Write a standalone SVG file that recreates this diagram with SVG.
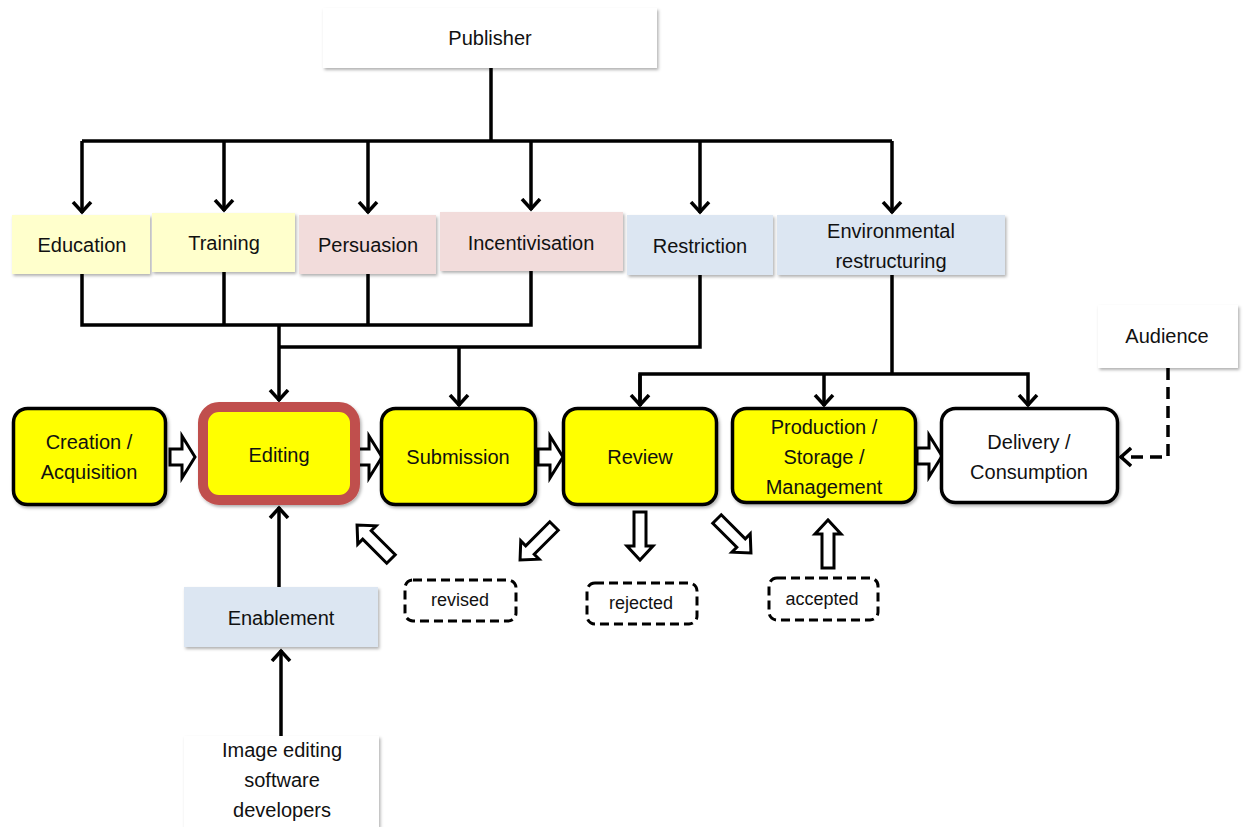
<svg xmlns="http://www.w3.org/2000/svg" xmlns:xlink="http://www.w3.org/1999/xlink" width="1244" height="827" viewBox="0 0 1244 827">
<style>
text{font-family:"Liberation Sans",Arial,sans-serif;font-size:20px;fill:#111;text-anchor:middle;dominant-baseline:central}
.small{font-size:18px}
.wht{fill:#fff}
.ylw{fill:#FFFFCC}
.pnk{fill:#F2DCDB}
.blu{fill:#DCE6F2}
.proc{fill:#FFFF00;stroke:#000;stroke-width:3.5}
.deliv{fill:#fff;stroke:#000;stroke-width:3.5}
.edit{fill:#FFFF00;stroke:#C0504D;stroke-width:10}
.dash{fill:#fff;stroke:#000;stroke-width:3;stroke-dasharray:9 5}
.conn{fill:none;stroke:#000;stroke-width:3.5}
.dconn{fill:none;stroke:#000;stroke-width:3.5;stroke-dasharray:12 7}
.barrow{fill:#fff;stroke:#000;stroke-width:3;stroke-linejoin:miter}
</style>
<defs>
<filter id="sh" x="-10%" y="-10%" width="130%" height="140%">
<feDropShadow dx="1.5" dy="2" stdDeviation="1.5" flood-color="#000" flood-opacity="0.3"/>
</filter>
<marker id="arr" markerUnits="userSpaceOnUse" orient="auto" markerWidth="24" markerHeight="24" viewBox="-12 -12 24 24" refX="0" refY="0">
<path d="M-11,-9 L-1,0 L-11,9" fill="none" stroke="#000" stroke-width="3.5"/>
</marker>
<path id="bigArrow" class="barrow" d="M0,-8 H12 V-21 L25,0 L12,21 V8 H0 Z"/>
<path id="smallArrow" class="barrow" d="M0,-6 H34 V-13 L48,0 L34,13 V6 H0 Z"/>
</defs>
<g id="connectors">
<path class="conn" d="M491,68 V141"/>
<path class="conn" d="M82,141 H892"/>
<path class="conn" d="M82,141 V213" marker-end="url(#arr)"/>
<path class="conn" d="M224,141 V211" marker-end="url(#arr)"/>
<path class="conn" d="M368,141 V213" marker-end="url(#arr)"/>
<path class="conn" d="M531,141 V210" marker-end="url(#arr)"/>
<path class="conn" d="M700,141 V213" marker-end="url(#arr)"/>
<path class="conn" d="M892,141 V213" marker-end="url(#arr)"/>
<path class="conn" d="M82,274 V325 H531 V271"/>
<path class="conn" d="M224,272 V325"/>
<path class="conn" d="M368,274 V325"/>
<path class="conn" d="M279,325 V401" marker-end="url(#arr)"/>
<path class="conn" d="M279,347 H700 V275"/>
<path class="conn" d="M459,347 V406" marker-end="url(#arr)"/>
<path class="conn" d="M892,275 V374"/>
<path class="conn" d="M640,406 V374 H1028 V406" marker-end="url(#arr)"/>
<path class="conn" d="M640,374 V406" marker-end="url(#arr)"/>
<path class="conn" d="M824,374 V406" marker-end="url(#arr)"/>
<path class="dconn" d="M1168,368 V457 H1120" marker-end="url(#arr)"/>
<path class="conn" d="M279,587 V507" marker-end="url(#arr)"/>
<path class="conn" d="M281,736 V650" marker-end="url(#arr)"/>
<use xlink:href="#bigArrow" href="#bigArrow" transform="translate(170,457)"/>
<use xlink:href="#bigArrow" href="#bigArrow" transform="translate(357,457)"/>
<use xlink:href="#bigArrow" href="#bigArrow" transform="translate(538,457)"/>
<use xlink:href="#bigArrow" href="#bigArrow" transform="translate(917,456)"/>
<use xlink:href="#smallArrow" href="#smallArrow" transform="translate(391,559) rotate(-135)"/>
<use xlink:href="#smallArrow" href="#smallArrow" transform="translate(554,526) rotate(135)"/>
<use xlink:href="#smallArrow" href="#smallArrow" transform="translate(640,512) rotate(90)"/>
<use xlink:href="#smallArrow" href="#smallArrow" transform="translate(717,519) rotate(45)"/>
<use xlink:href="#smallArrow" href="#smallArrow" transform="translate(828,568) rotate(-90)"/>
</g>
<g id="publisher"><rect class="wht" x="323" y="8" width="334" height="60" filter="url(#sh)"/><text x="490" y="38">Publisher</text></g>
<g id="education"><rect class="ylw" x="12" y="215" width="138" height="59" filter="url(#sh)"/><text x="82" y="245">Education</text></g>
<g id="training"><rect class="ylw" x="152" y="213" width="143" height="59" filter="url(#sh)"/><text x="224" y="243">Training</text></g>
<g id="persuasion"><rect class="pnk" x="299" y="215" width="137" height="59" filter="url(#sh)"/><text x="368" y="245">Persuasion</text></g>
<g id="incentivisation"><rect class="pnk" x="440" y="212" width="183" height="59" filter="url(#sh)"/><text x="531" y="243">Incentivisation</text></g>
<g id="restriction"><rect class="blu" x="627" y="215" width="146" height="60" filter="url(#sh)"/><text x="700" y="246">Restriction</text></g>
<g id="environmental"><rect class="blu" x="777" y="215" width="228" height="60" filter="url(#sh)"/><text x="891" y="231">Environmental</text><text x="891" y="261">restructuring</text></g>
<g id="creation"><rect class="proc" x="13.5" y="408.5" width="152" height="96" rx="14" filter="url(#sh)"/><text x="89" y="442">Creation /</text><text x="89" y="472">Acquisition</text></g>
<g id="editing"><rect class="edit" x="203" y="407" width="152" height="93" rx="16" filter="url(#sh)"/><text x="279" y="455">Editing</text></g>
<g id="submission"><rect class="proc" x="381.5" y="408.5" width="154" height="96" rx="14" filter="url(#sh)"/><text x="458" y="457">Submission</text></g>
<g id="review"><rect class="proc" x="563.5" y="408.5" width="153" height="96" rx="14" filter="url(#sh)"/><text x="640" y="457">Review</text></g>
<g id="production"><rect class="proc" x="732.5" y="408.5" width="183" height="94" rx="14" filter="url(#sh)"/><text x="824" y="427">Production /</text><text x="824" y="457">Storage /</text><text x="824" y="487">Management</text></g>
<g id="delivery"><rect class="deliv" x="941.5" y="408.5" width="176" height="94" rx="14" filter="url(#sh)"/><text x="1029" y="442">Delivery /</text><text x="1029" y="472">Consumption</text></g>
<g id="audience"><rect class="wht" x="1098" y="305" width="140" height="63" filter="url(#sh)"/><text x="1167" y="336">Audience</text></g>
<g id="revised"><rect class="dash" x="405" y="580" width="111" height="41" rx="8"/><text class="small" x="460" y="600">revised</text></g>
<g id="rejected"><rect class="dash" x="587" y="583" width="110" height="41" rx="8"/><text class="small" x="641" y="603">rejected</text></g>
<g id="accepted"><rect class="dash" x="769" y="578" width="109" height="42" rx="8"/><text class="small" x="822" y="599">accepted</text></g>
<g id="enablement"><rect class="blu" x="184" y="587" width="194" height="60" filter="url(#sh)"/><text x="281" y="618">Enablement</text></g>
<g id="developers"><rect class="wht" x="184" y="736" width="195" height="91" filter="url(#sh)"/><text x="282" y="750">Image editing</text><text x="282" y="780">software</text><text x="282" y="810">developers</text></g>
</svg>
